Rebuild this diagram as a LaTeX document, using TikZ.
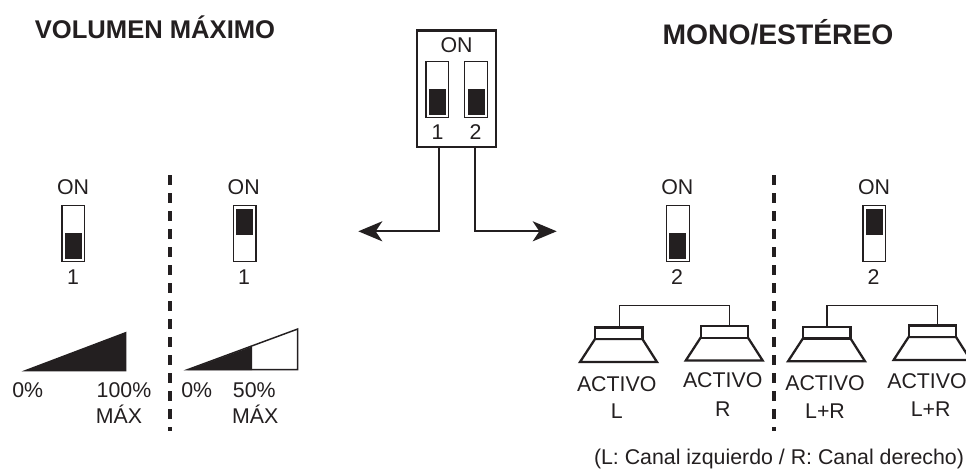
\documentclass[tikz,border=0pt]{standalone}
\usepackage{fontspec}
\setmainfont{Liberation Sans}
\usetikzlibrary{arrows.meta,calc}
\definecolor{ink}{HTML}{231F20}
\tikzset{
  lbl/.style={anchor=base,inner sep=0pt,text=ink,font=\fontsize{16}{18}\selectfont},
  ttl/.style={anchor=base,inner sep=0pt,text=ink,font=\fontsize{19.2}{24}\bfseries\selectfont},
  swbody/.style={draw=ink,line width=1.1pt,fill=white,minimum width=17pt,minimum height=42pt,inner sep=0pt},
  knob/.style={fill=ink,minimum width=12.5pt,minimum height=19.3pt,inner sep=0pt},
  cone/.style={draw=ink,line width=1.7pt,line join=miter,fill=white},
  spkbox/.style={draw=ink,line width=1.7pt,fill=white,minimum width=35.5pt,minimum height=8.6pt,inner sep=0pt},
  wire/.style={draw=ink,line width=1.15pt},
  lead/.style={draw=ink,line width=1.7pt,-{Stealth[length=18pt,width=15pt,inset=5pt]}},
  divider/.style={draw=ink,line width=2.6pt,dash pattern=on 7.5pt off 6pt},
  wedge/.style={fill=ink},
}
\begin{document}
\begin{tikzpicture}[x=0.75pt,y=-0.75pt]
\clip (0,0) rectangle (966,469);
\fill[white] (0,0) rectangle (966,469);
% titles
\node[ttl] (t1) at (155,38) {VOLUMEN MÁXIMO};
\node[ttl] (t2) at (778,44) {\fontsize{21.2}{24}\bfseries\selectfont MONO/ESTÉREO};
% main switch
\node[draw=ink,line width=1.8pt,fill=white,minimum width=59.3pt,minimum height=87.3pt,inner sep=0pt] (main) at (456.65,88.7) {};
\node[lbl] (mainon) at (456.5,52.5) {ON};
\node[swbody] (ms1) at (437.3,89.3) {};
\node[knob] (mk1) at (437.7,101.9) {};
\node[swbody] (ms2) at (476,89.3) {};
\node[knob] (mk2) at (476.7,101.9) {};
\node[lbl] (mn1) at (437.5,139.5) {1};
\node[lbl] (mn2) at (475.5,139.5) {2};
\coordinate (al) at (358.3,231.3);
\coordinate (ar) at (556.7,231.3);
\draw[lead] ($(main.south)+(-17.3,0)$) |- (al);
\draw[lead] ($(main.south)+(18.6,0)$) |- (ar);
% dividers
\coordinate (d1a) at (170,175); \coordinate (d1b) at (170,431);
\coordinate (d2a) at (774,175); \coordinate (d2b) at (774,431);
\draw[divider] (d1a) -- (d1b);
\draw[divider] (d2a) -- (d2b);
% left switches
\node[lbl] (on1) at (73,194) {ON};
\node[swbody] (s1) at (73.3,233.7) {};
\node[knob] (k1) at (73.5,245.9) {};
\node[lbl] (n1) at (73,284.5) {1};
\node[lbl] (on2) at (243.7,194) {ON};
\node[swbody] (s2) at (244.7,233.7) {};
\node[knob] (k2) at (244.5,221.9) {};
\node[lbl] (n2) at (244,284.5) {1};
% right switches
\node[lbl] (on3) at (677.3,194) {ON};
\node[swbody] (s3) at (678,233.7) {};
\node[knob] (k3) at (677.7,245.9) {};
\node[lbl] (n3) at (677,284.5) {2};
\node[lbl] (on4) at (874,194) {ON};
\node[swbody] (s4) at (874.3,233.7) {};
\node[knob] (k4) at (874.7,221.9) {};
\node[lbl] (n4) at (873.5,284.5) {2};
% wedges
\fill[wedge] (21.7,371.3) -- (126.3,371.3) -- (126.3,331.7) -- cycle;
\draw[draw=ink,line width=1.1pt,fill=white,line join=miter] (187.7,369.6) -- (297.7,369.6) -- (297.7,329) -- cycle;
\fill[wedge] (187.7,370) -- (252,370) -- (252,346.5) -- cycle;
\node[lbl] (p1) at (27.7,397) {0\%};
\node[lbl] (p2) at (124,397) {100\%};
\node[lbl] (m1) at (119,423) {MÁX};
\node[lbl] (p3) at (196.7,397) {0\%};
\node[lbl] (p4) at (254.3,397) {50\%};
\node[lbl] (m2) at (255.3,423) {MÁX};
% speakers
\draw[cone] (595,339) -- (642.4,339) -- (657,362) -- (580,362) -- cycle;
\node[spkbox] (b1) at (618.7,333.3) {};
\draw[cone] (700.6,337.7) -- (748,337.7) -- (762.7,360.6) -- (685.7,360.6) -- cycle;
\node[spkbox] (b2) at (724.3,332) {};
\draw[cone] (803,338.3) -- (850.4,338.3) -- (865,361.3) -- (788,361.3) -- cycle;
\node[spkbox] (b3) at (826.7,332.7) {};
\draw[cone] (908.6,337) -- (956,337) -- (970.6,360) -- (893.6,360) -- cycle;
\node[spkbox] (b4) at (932.3,331.3) {};
\draw[wire] ($(b1.north)+(0.6,0)$) |- (729.3,305.5) -- ($(b2.north)+(5,0)$);
\draw[wire] ($(b3.north)+(0.3,0)$) |- (937.3,305.5) -- ($(b4.north)+(5,0)$);
% speaker labels
\node[lbl] (a1) at (616.7,391.5) {ACTIVO};
\node[lbl] (l1) at (616.7,418) {L};
\node[lbl] (a2) at (722.7,387.5) {ACTIVO};
\node[lbl] (l2) at (722.7,416.5) {R};
\node[lbl] (a3) at (825,390) {ACTIVO};
\node[lbl] (l3) at (825,418) {L+R};
\node[lbl] (a4) at (927,388) {ACTIVO};
\node[lbl] (l4) at (930.7,416) {L+R};
\node[lbl] (cap) at (779,464) {(L: Canal izquierdo / R: Canal derecho)};
\end{tikzpicture}
\end{document}
